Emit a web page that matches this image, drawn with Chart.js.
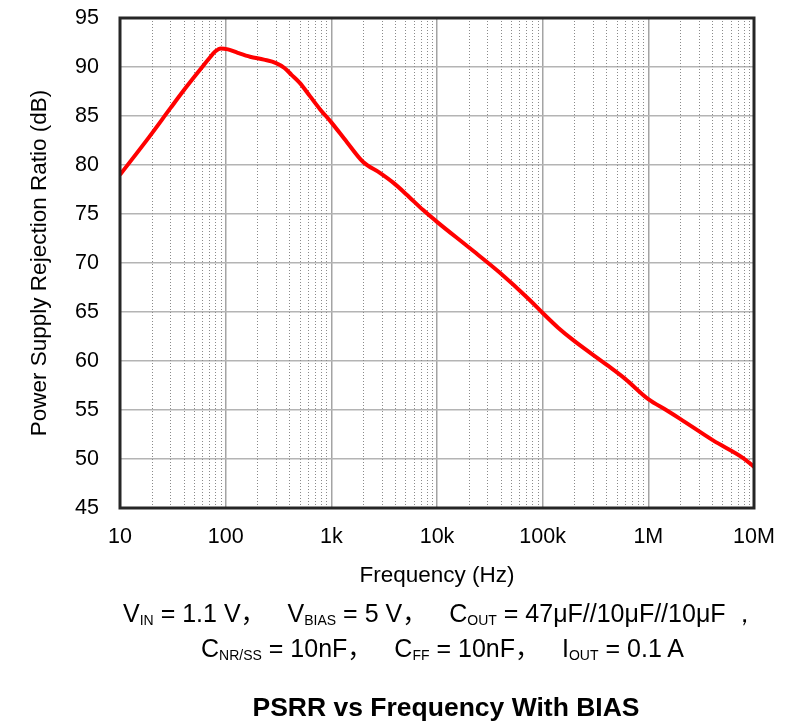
<!DOCTYPE html>
<html>
<head>
<meta charset="utf-8">
<script src="https://cdn.jsdelivr.net/npm/chart.js@4.4.1/dist/chart.umd.min.js"></script>
<style>
  html, body { margin: 0; padding: 0; background: #ffffff; }
  #wrap { position: relative; width: 794px; height: 725px; overflow: hidden;
          font-family: "Liberation Sans", Arial, sans-serif; color: #000; }
  #c { position: absolute; left: 0; top: 0; }
  .ln { position: absolute; white-space: nowrap; line-height: 1; font-size: 25px; }
  .s { font-size: 14px; position: relative; top: 3px; }
  .cm { font-family: "Noto Sans CJK SC", sans-serif; margin-right: 22px; }
  #t { position: absolute; left: 0; width: 892px; text-align: center; top: 694px;
       font-size: 26.5px; font-weight: bold; line-height: 1; white-space: nowrap; }
</style>
</head>
<body>
<div id="wrap">
  <canvas id="c" width="794" height="725"></canvas>
  <div class="ln" id="l1" style="left:123px; top:599px;">V<span class="s">IN</span> = 1.1 V<span class="cm">，</span>V<span class="s">BIAS</span> = 5 V<span class="cm">，</span>C<span class="s">OUT</span> = 47μF//10μF//10μF ，</div>
  <div class="ln" id="l2" style="left:201px; top:634px;">C<span class="s">NR/SS</span> = 10nF<span class="cm">，</span>C<span class="s">FF</span> = 10nF<span class="cm">，</span>I<span class="s">OUT</span> = 0.1 A</div>
  <div id="t">PSRR vs Frequency With BIAS</div>
</div>
<script>
// ---- data ----
const freqHz = [10, 19, 30, 40, 60, 70, 80, 90, 105, 130, 170, 230, 300, 360, 420, 500, 630, 780,
                1000, 1400, 2000, 2880, 3850, 5140, 7400, 10000, 20500, 39400, 75800,
                100000, 140000, 196000, 405000, 600000, 1000000, 1500000, 2000000, 4100000, 7900000, 10000000];
const psrrDb = [79.0, 82.9, 85.8, 87.6, 90.0, 90.9, 91.6, 91.9, 91.8, 91.45, 91.05, 90.75, 90.4, 89.9, 89.2, 88.4, 87.0, 85.7,
                84.35, 82.35, 80.3, 79.2, 78.2, 77.0, 75.4, 74.2, 71.5, 69.0, 66.2,
                64.9, 63.4, 62.1, 59.6, 58.2, 56.1, 54.95, 54.1, 51.9, 50.1, 49.2];
const xTickValues = [10, 100, 1000, 10000, 100000, 1000000, 10000000];
const xTickLabels = ['10', '100', '1k', '10k', '100k', '1M', '10M'];
const yTickValues = [45, 50, 55, 60, 65, 70, 75, 80, 85, 90, 95];
const minorMultipliers = [2, 3, 4, 5, 6, 7, 8, 9];

Chart.defaults.font.family = '"Liberation Sans", Arial, sans-serif';
Chart.defaults.color = '#000';

const minorGrid = {
  id: 'minorGrid',
  beforeDatasetsDraw(chart) {
    const { ctx, chartArea: { top, bottom }, scales: { x } } = chart;
    ctx.save();
    ctx.strokeStyle = '#8a8a8a';
    ctx.lineWidth = 1;
    ctx.setLineDash([1, 2]);
    for (let i = 0; i < xTickValues.length - 1; i++) {
      const d = xTickValues[i];
      for (const m of minorMultipliers) {
        const px = Math.round(x.getPixelForValue(d * m)) + 0.5;
        ctx.beginPath();
        ctx.moveTo(px, top);
        ctx.lineTo(px, bottom);
        ctx.stroke();
      }
    }
    ctx.restore();
  }
};

const frame = {
  id: 'frame',
  afterDatasetsDraw(chart) {
    const { ctx, chartArea: { left, top, right, bottom } } = chart;
    ctx.save();
    ctx.strokeStyle = '#262626';
    ctx.lineWidth = 3;
    ctx.strokeRect(left, top, right - left, bottom - top);
    ctx.restore();
  }
};

new Chart(document.getElementById('c'), {
  type: 'line',
  data: {
    datasets: [{
      data: freqHz.map((f, i) => ({ x: f, y: psrrDb[i] })),
      borderColor: '#ff0000',
      borderWidth: 4,
      pointRadius: 0,
      fill: false,
      cubicInterpolationMode: 'monotone'
    }]
  },
  options: {
    responsive: false,
    animation: false,
    layout: { padding: { left: 0, top: 18, right: 40, bottom: 136 } },
    plugins: { legend: { display: false }, tooltip: { enabled: false } },
    scales: {
      x: {
        type: 'logarithmic',
        min: 10, max: 10000000,
        afterBuildTicks: s => { s.ticks = xTickValues.map(v => ({ value: v })); },
        afterFit: s => { s.height = 81; s.paddingLeft = 0; s.paddingRight = 0; },
        ticks: {
          callback: (v, i) => xTickLabels[i],
          font: { size: 21.5 },
          color: '#000',
          padding: 16,
          maxRotation: 0,
          autoSkip: false
        },
        grid: { color: '#a4a4a4', lineWidth: 1.5, drawTicks: false },
        border: { display: false },
        title: { display: true, text: 'Frequency (Hz)', font: { size: 22.5 }, color: '#000', padding: { top: 0, bottom: 0 } }
      },
      y: {
        min: 45, max: 95,
        afterBuildTicks: s => { s.ticks = yTickValues.map(v => ({ value: v })); },
        afterFit: s => { s.width = 120; s.paddingTop = 0; s.paddingBottom = 0; },
        ticks: { callback: v => String(v), font: { size: 21.5 }, color: '#000', padding: 21 },
        grid: { color: '#b4b4b4', lineWidth: 1.5, drawTicks: false },
        border: { display: false },
        title: { display: true, text: 'Power Supply Rejection Ratio (dB)', font: { size: 22.5 }, color: '#000', padding: { top: 26, bottom: 0 } }
      }
    }
  },
  plugins: [minorGrid, frame]
});
</script>
</body>
</html>
